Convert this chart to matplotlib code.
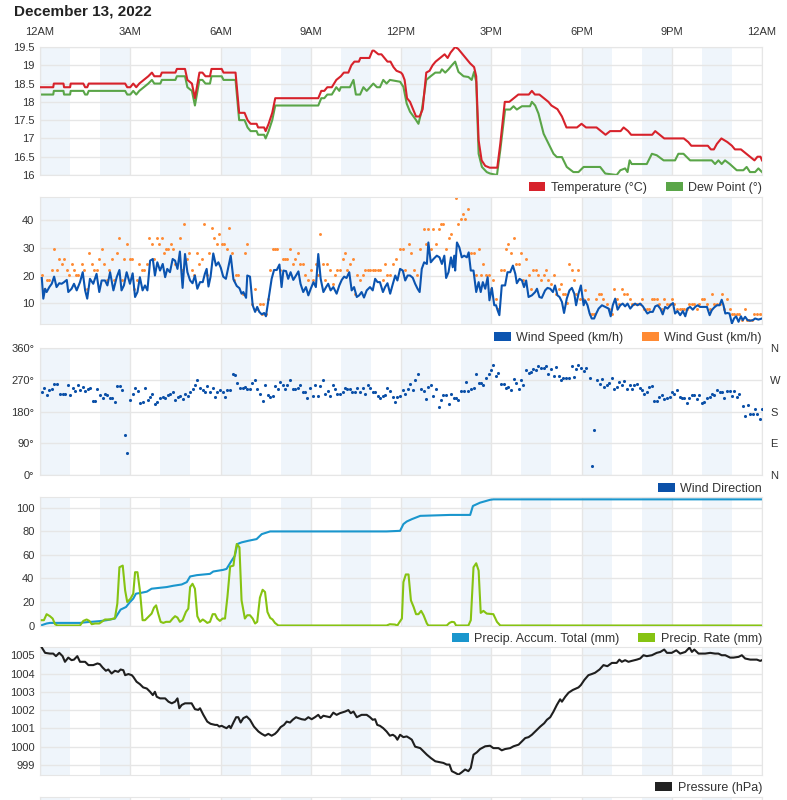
import numpy as np
import matplotlib
matplotlib.use("Agg")
import matplotlib.pyplot as plt
from matplotlib.patches import Patch

plt.rcParams['font.family'] = ['Liberation Sans', 'DejaVu Sans']

# ---- data (hours since midnight, value) ----
hour_ticks = [0, 3, 6, 9, 12, 15, 18, 21, 24]
hour_labels = ['12AM', '3AM', '6AM', '9AM', '12PM', '3PM', '6PM', '9PM', '12AM']

temperature = [
    (0.0, 18.4), (0.44, 18.4), (0.46, 18.5), (0.78, 18.5), (0.8, 18.4), (1.0, 18.4), (1.02, 18.5),
    (1.44, 18.5), (1.5, 18.4), (1.57, 18.4), (1.62, 18.5), (2.83, 18.5), (2.9, 18.4), (3.0, 18.4),
    (3.1, 18.5), (3.2, 18.4), (3.3, 18.5), (3.45, 18.6), (3.6, 18.7), (3.72, 18.8), (3.8, 18.7),
    (4.0, 18.7), (4.05, 18.8), (4.5, 18.8), (4.55, 18.9), (4.82, 18.9), (4.9, 18.6), (5.05, 18.5),
    (5.15, 18.1), (5.3, 18.8), (5.4, 18.8), (5.5, 18.7), (5.65, 18.7), (5.7, 18.9), (6.04, 18.9),
    (6.1, 18.8), (6.5, 18.8), (6.62, 17.7), (6.8, 17.7), (6.9, 17.5), (7.0, 17.4), (7.2, 17.4),
    (7.25, 17.3), (7.45, 17.3), (7.5, 17.2), (7.6, 17.4), (7.72, 17.7), (7.82, 18.1), (9.25, 18.1),
    (9.35, 18.3), (9.45, 18.3), (9.55, 18.4), (9.7, 18.4), (9.85, 18.6), (10.0, 18.7), (10.1, 18.8),
    (10.25, 18.8), (10.35, 19.0), (10.45, 19.1), (10.6, 19.1), (10.65, 19.2), (10.95, 19.2),
    (11.05, 19.4), (11.1, 19.4), (11.25, 19.3), (11.35, 19.3), (11.45, 19.2), (11.55, 19.1),
    (11.65, 19.1), (11.75, 18.95), (11.85, 18.85), (12.0, 18.8), (12.05, 18.75), (12.12, 18.6),
    (12.2, 18.1), (12.3, 18.0), (12.4, 17.8), (12.5, 17.6), (12.62, 17.6), (12.72, 17.8),
    (12.84, 18.8), (12.95, 18.85), (13.05, 19.0), (13.15, 19.1), (13.3, 19.2), (13.45, 19.3),
    (13.55, 19.2), (13.65, 19.35), (13.8, 19.5), (13.9, 19.45), (14.0, 19.35), (14.15, 19.2),
    (14.3, 19.05), (14.43, 18.95), (14.5, 18.7), (14.58, 16.95), (14.68, 16.4), (14.8, 16.25),
    (14.95, 16.2), (15.2, 16.2), (15.3, 16.85), (15.45, 18.0), (15.6, 18.0), (15.75, 18.1),
    (15.9, 18.2), (16.25, 18.2), (16.35, 18.3), (16.45, 18.2), (16.6, 18.2), (16.75, 18.1),
    (16.9, 18.0), (17.0, 17.9), (17.2, 17.8), (17.35, 17.6), (17.5, 17.3), (17.85, 17.3),
    (18.0, 17.4), (18.15, 17.3), (18.5, 17.3), (18.65, 17.2), (18.8, 17.1), (18.95, 17.2),
    (19.3, 17.2), (19.4, 17.3), (19.55, 17.2), (19.65, 17.1), (20.35, 17.1), (20.45, 17.2),
    (20.6, 17.1), (20.75, 17.0), (21.4, 17.0), (21.55, 16.9), (21.65, 16.8), (22.2, 16.8),
    (22.3, 16.7), (22.4, 16.7), (22.5, 16.85), (22.65, 17.0), (22.75, 16.95), (22.85, 16.9),
    (23.0, 16.8), (23.1, 16.7), (23.3, 16.7), (23.45, 16.6), (23.6, 16.5), (23.75, 16.4),
    (23.85, 16.5), (23.95, 16.5), (24.0, 16.4),
]

dew_point = [
    (0.0, 18.2), (0.44, 18.2), (0.46, 18.3), (0.78, 18.3), (0.8, 18.2), (1.0, 18.2), (1.02, 18.3),
    (1.44, 18.3), (1.5, 18.2), (1.57, 18.2), (1.62, 18.3), (2.83, 18.3), (2.9, 18.2), (3.0, 18.2),
    (3.1, 18.3), (3.2, 18.2), (3.3, 18.3), (3.45, 18.4), (3.6, 18.5), (3.72, 18.6), (3.8, 18.5),
    (4.0, 18.5), (4.05, 18.6), (4.5, 18.6), (4.55, 18.7), (4.82, 18.7), (4.9, 18.4), (5.05, 18.3),
    (5.15, 17.9), (5.3, 18.6), (5.4, 18.6), (5.5, 18.5), (5.65, 18.5), (5.7, 18.7), (6.04, 18.7),
    (6.1, 18.6), (6.5, 18.6), (6.62, 17.5), (6.8, 17.5), (6.9, 17.3), (7.0, 17.2), (7.2, 17.2),
    (7.25, 17.1), (7.45, 17.1), (7.5, 17.0), (7.6, 17.2), (7.72, 17.5), (7.82, 17.9), (9.25, 17.9),
    (9.35, 18.1), (9.45, 18.1), (9.55, 18.2), (9.7, 18.2), (9.85, 18.4), (9.95, 18.3), (10.0, 18.4),
    (10.3, 18.4), (10.42, 18.6), (10.5, 18.2), (10.64, 18.2), (10.75, 18.4), (10.86, 18.3),
    (10.97, 18.4), (11.08, 18.5), (11.2, 18.4), (11.3, 18.4), (11.41, 18.6), (11.52, 18.5),
    (11.63, 18.6), (11.97, 18.55), (12.08, 18.41), (12.19, 17.95), (12.3, 17.73), (12.47, 17.54),
    (12.58, 17.4), (12.69, 17.77), (12.84, 18.6), (12.97, 18.69), (13.14, 18.8), (13.3, 18.8),
    (13.36, 18.89), (13.47, 18.8), (13.58, 18.89), (13.69, 19.0), (13.8, 19.1), (13.91, 18.82),
    (14.08, 18.7), (14.24, 18.68), (14.35, 18.6), (14.43, 18.82), (14.5, 18.55), (14.58, 16.58),
    (14.69, 16.22), (14.85, 16.08), (14.96, 16.04), (15.19, 16.0), (15.3, 16.68), (15.46, 17.79),
    (15.63, 17.79), (15.74, 17.88), (15.85, 17.79), (16.02, 17.88), (16.29, 17.88), (16.35, 18.0),
    (16.46, 17.9), (16.57, 17.68), (16.74, 17.13), (16.9, 16.86), (17.07, 16.58), (17.18, 16.49),
    (17.35, 16.49), (17.51, 16.22), (17.73, 16.08), (17.9, 16.08), (18.07, 16.22), (18.62, 16.22),
    (18.79, 16.04), (19.17, 16.0), (19.29, 16.13), (19.45, 16.18), (19.53, 16.08), (19.6, 16.4),
    (19.67, 16.3), (20.17, 16.3), (20.34, 16.58), (20.5, 16.54), (20.73, 16.4), (21.11, 16.4),
    (21.22, 16.58), (21.39, 16.58), (21.61, 16.4), (22.33, 16.4), (22.44, 16.3), (22.55, 16.4),
    (22.66, 16.3), (22.77, 16.4), (22.93, 16.3), (23.16, 16.13), (23.38, 16.13), (23.49, 16.22),
    (23.6, 16.08), (23.77, 16.08), (23.88, 16.18), (24.0, 16.08),
]

wind_speed = [
    (0.06, 19.1), (0.11, 11.6), (0.17, 15.2), (0.22, 14.0), (0.31, 15.8), (0.39, 17.0), (0.47, 19.6),
    (0.55, 15.8), (0.64, 17.2), (0.72, 17.0), (0.80, 17.6), (0.89, 18.4), (0.94, 14.0), (1.05, 15.2),
    (1.13, 17.0), (1.22, 14.6), (1.33, 17.6), (1.42, 21.2), (1.50, 14.6), (1.57, 11.6), (1.66, 18.8),
    (1.77, 17.0), (1.88, 20.6), (1.97, 14.0), (2.05, 18.2), (2.16, 18.2), (2.24, 16.4), (2.33, 21.2),
    (2.44, 14.6), (2.55, 19.4), (2.64, 22.0), (2.71, 14.6), (2.79, 16.4), (2.88, 21.2), (2.99, 17.0),
    (3.08, 20.8), (3.16, 12.2), (3.24, 14.0), (3.32, 19.4), (3.41, 14.6), (3.49, 16.4), (3.57, 14.6),
    (3.66, 25.4), (3.75, 26.0), (3.82, 20.0), (3.90, 24.8), (3.99, 21.8), (4.08, 24.2), (4.16, 19.4),
    (4.23, 22.4), (4.32, 21.2), (4.41, 26.0), (4.49, 25.4), (4.57, 22.4), (4.65, 28.7), (4.74, 15.5),
    (4.82, 27.8), (4.90, 21.2), (4.99, 18.2), (5.07, 17.2), (5.15, 20.0), (5.23, 15.2), (5.32, 17.6),
    (5.41, 17.6), (5.48, 20.6), (5.54, 22.4), (5.60, 16.0), (5.67, 19.6), (5.76, 28.0), (5.85, 23.6),
    (5.93, 24.8), (6.01, 22.8), (6.09, 19.6), (6.18, 18.8), (6.25, 22.4), (6.34, 27.2), (6.43, 18.6),
    (6.54, 16.2), (6.63, 15.4), (6.70, 13.4), (6.76, 14.0), (6.85, 11.9), (6.89, 20.0), (6.98, 19.6),
    (7.07, 9.2), (7.15, 6.8), (7.22, 8.6), (7.29, 6.8), (7.37, 5.9), (7.45, 6.4), (7.51, 5.2),
    (7.59, 11.0), (7.70, 18.8), (7.78, 22.0), (7.87, 22.0), (7.96, 24.0), (8.03, 15.8), (8.09, 21.8),
    (8.18, 21.6), (8.25, 18.8), (8.33, 21.2), (8.42, 18.4), (8.51, 20.0), (8.59, 21.5), (8.66, 17.0),
    (8.75, 14.0), (8.84, 15.8), (8.92, 12.8), (9.00, 15.2), (9.09, 17.6), (9.17, 15.8), (9.25, 27.8),
    (9.33, 18.8), (9.42, 14.0), (9.51, 15.8), (9.58, 17.0), (9.66, 14.6), (9.75, 15.8), (9.86, 13.4),
    (9.95, 16.4), (10.03, 18.4), (10.11, 19.6), (10.19, 19.1), (10.28, 21.2), (10.36, 14.6),
    (10.44, 15.8), (10.53, 12.2), (10.61, 12.8), (10.69, 14.0), (10.77, 12.0), (10.86, 14.6),
    (10.97, 15.8), (11.06, 14.6), (11.14, 18.8), (11.22, 17.6), (11.30, 17.6), (11.40, 14.0),
    (11.47, 15.8), (11.55, 17.2), (11.64, 13.4), (11.73, 17.0), (11.81, 20.0), (11.88, 18.2),
    (11.97, 22.4), (12.06, 21.8), (12.14, 18.2), (12.22, 20.0), (12.30, 20.0), (12.39, 19.2),
    (12.47, 17.0), (12.55, 15.2), (12.62, 14.0), (12.69, 22.4), (12.77, 24.8), (12.86, 24.2),
    (12.91, 32.0), (12.99, 24.8), (13.08, 26.0), (13.19, 27.2), (13.28, 26.6), (13.36, 24.2),
    (13.44, 27.2), (13.50, 19.1), (13.58, 21.2), (13.66, 26.6), (13.72, 23.0), (13.77, 27.2),
    (13.80, 21.8), (13.86, 32.0), (13.94, 30.2), (14.02, 26.6), (14.10, 27.2), (14.19, 26.6),
    (14.25, 28.4), (14.32, 21.8), (14.41, 21.8), (14.50, 14.0), (14.58, 17.6), (14.65, 14.0),
    (14.72, 17.6), (14.80, 15.2), (14.88, 19.4), (14.94, 11.0), (15.02, 15.5), (15.10, 9.2),
    (15.16, 9.2), (15.21, 7.4), (15.27, 5.6), (15.35, 16.4), (15.46, 16.4), (15.54, 21.2),
    (15.63, 21.2), (15.72, 23.6), (15.80, 20.6), (15.85, 17.2), (15.94, 18.8), (16.02, 18.2),
    (16.09, 15.8), (16.16, 18.2), (16.24, 12.2), (16.35, 12.8), (16.46, 14.0), (16.52, 15.2),
    (16.60, 12.2), (16.68, 11.9), (16.79, 14.6), (16.87, 15.5), (16.96, 15.2), (17.05, 14.0),
    (17.12, 16.4), (17.20, 12.8), (17.27, 12.2), (17.35, 10.4), (17.42, 6.4), (17.51, 11.6),
    (17.60, 14.6), (17.68, 15.5), (17.76, 13.4), (17.82, 9.2), (17.90, 13.4), (17.98, 16.4),
    (18.07, 9.2), (18.12, 11.0), (18.20, 9.2), (18.27, 6.2), (18.34, 4.4), (18.42, 4.4),
    (18.49, 6.2), (18.57, 8.0), (18.68, 9.2), (18.79, 8.6), (18.90, 8.0), (18.97, 5.2),
    (19.04, 9.2), (19.12, 11.6), (19.20, 7.6), (19.29, 9.2), (19.37, 9.8), (19.45, 8.8),
    (19.53, 9.8), (19.62, 8.0), (19.71, 9.2), (19.78, 9.8), (19.86, 9.2), (19.95, 9.8),
    (20.04, 8.8), (20.12, 7.4), (20.19, 6.2), (20.28, 6.8), (20.37, 6.8), (20.45, 8.8),
    (20.53, 9.2), (20.62, 8.0), (20.70, 5.9), (20.78, 8.6), (20.86, 8.0), (20.95, 9.2),
    (21.04, 10.0), (21.11, 6.2), (21.19, 7.1), (21.28, 5.6), (21.37, 7.1), (21.45, 5.2),
    (21.52, 8.0), (21.61, 8.6), (21.70, 7.6), (21.78, 8.6), (21.86, 9.2), (21.94, 8.6),
    (22.06, 8.6), (22.17, 8.6), (22.26, 5.6), (22.33, 7.4), (22.41, 8.4), (22.50, 9.2),
    (22.59, 9.2), (22.66, 11.2), (22.72, 9.2), (22.78, 6.2), (22.85, 6.4), (22.92, 6.2),
    (23.00, 2.6), (23.07, 4.4), (23.14, 5.2), (23.22, 3.2), (23.30, 5.2), (23.36, 3.8),
    (23.44, 5.0), (23.52, 3.8), (23.61, 3.6), (23.70, 3.8), (23.77, 4.4), (23.88, 4.0), (24.00, 4.4),
]

wind_gust = [
    (0.06, 20.3), (0.14, 15.2), (0.22, 18.4), (0.31, 18.4), (0.39, 22), (0.47, 29.6), (0.55, 22),
    (0.64, 26), (0.72, 24), (0.80, 26), (0.89, 22), (0.98, 20.3), (1.05, 24), (1.13, 22),
    (1.20, 20.3), (1.27, 20.3), (1.39, 24), (1.46, 22), (1.55, 15.2), (1.64, 28), (1.72, 24),
    (1.80, 22), (1.88, 22), (1.97, 26), (2.06, 29.6), (2.14, 24), (2.22, 18.4), (2.30, 22),
    (2.40, 26), (2.47, 18.4), (2.55, 28), (2.64, 33.5), (2.71, 18.4), (2.79, 26), (2.90, 31.6),
    (2.99, 26), (3.07, 26), (3.14, 15.2), (3.21, 18.4), (3.30, 24), (3.38, 22), (3.47, 22),
    (3.55, 24), (3.62, 33.5), (3.71, 31.6), (3.80, 26), (3.88, 33.5), (3.97, 31.6), (4.04, 33.5),
    (4.12, 28), (4.19, 29.6), (4.27, 29.6), (4.34, 31.6), (4.41, 29.6), (4.49, 24), (4.57, 24),
    (4.65, 33.5), (4.73, 22), (4.80, 38.6), (4.88, 26), (4.96, 28), (5.04, 22), (5.13, 20.3),
    (5.21, 28), (5.30, 24), (5.37, 26), (5.45, 38.6), (5.54, 20.3), (5.63, 28), (5.71, 37.1),
    (5.80, 33.5), (5.87, 31.6), (5.96, 35.2), (6.04, 31.6), (6.12, 31.6), (6.20, 29.6),
    (6.29, 37.1), (6.37, 28), (6.45, 18.4), (6.52, 20.3), (6.59, 20.3), (6.74, 13.4), (6.81, 28),
    (6.89, 31.6), (7.06, 9.5), (7.15, 15.2), (7.20, 8), (7.31, 9.5), (7.37, 5.9), (7.42, 9.5),
    (7.51, 5.9), (7.57, 11.6), (7.65, 22), (7.73, 29.6), (7.81, 29.6), (7.89, 29.6), (7.98, 22),
    (8.07, 26), (8.14, 26), (8.22, 26), (8.31, 29.6), (8.40, 24), (8.48, 26), (8.57, 28),
    (8.64, 24), (8.73, 24), (8.81, 20.3), (8.92, 18.4), (9.00, 22), (9.09, 18.4), (9.16, 24),
    (9.25, 20.3), (9.31, 35.2), (9.40, 24), (9.47, 18.4), (9.55, 24), (9.64, 22), (9.73, 17),
    (9.81, 20.3), (9.88, 22), (9.97, 22), (10.06, 26), (10.14, 28), (10.22, 22), (10.30, 24),
    (10.39, 26), (10.47, 13.4), (10.55, 20.3), (10.64, 18.4), (10.73, 20.3), (10.80, 22),
    (10.89, 22), (10.97, 22), (11.06, 22), (11.14, 22), (11.22, 22), (11.30, 22), (11.39, 18.4),
    (11.47, 24), (11.55, 20.3), (11.63, 20.3), (11.75, 24), (11.84, 26), (11.97, 29.6),
    (12.06, 29.6), (12.14, 22), (12.25, 31.6), (12.33, 28), (12.42, 22), (12.53, 20.3),
    (12.64, 29.6), (12.75, 36.8), (12.84, 31.6), (12.91, 36.8), (12.99, 29.6), (13.08, 36.8),
    (13.17, 31.6), (13.25, 36.8), (13.32, 38.6), (13.41, 38.6), (13.50, 29.6), (13.58, 33.5),
    (13.66, 35.2), (13.75, 26), (13.83, 48.2), (13.91, 38.6), (13.99, 40.4), (14.06, 42.2),
    (14.13, 40.4), (14.24, 44), (14.32, 28), (14.41, 28), (14.50, 20.3), (14.58, 29.6),
    (14.65, 20.3), (14.74, 24), (14.83, 20.3), (14.91, 20.3), (14.99, 15.2), (15.07, 18.4),
    (15.16, 11.6), (15.24, 8), (15.32, 22), (15.41, 22), (15.50, 29.6), (15.57, 31.6),
    (15.65, 28), (15.74, 33.5), (15.83, 24), (15.91, 24), (15.98, 28), (16.07, 18.4), (16.16, 26),
    (16.24, 20.3), (16.32, 15.2), (16.40, 22), (16.49, 22), (16.57, 20.3), (16.65, 18.4),
    (16.74, 20.3), (16.83, 22), (16.90, 18.4), (16.98, 17), (17.07, 20.3), (17.16, 13.4),
    (17.24, 15.2), (17.31, 17), (17.38, 13.4), (17.46, 13.4), (17.53, 10), (17.60, 24),
    (17.68, 22), (17.76, 18.4), (17.82, 13.4), (17.90, 22), (17.96, 11.6), (18.04, 11.6),
    (18.12, 14.8), (18.20, 11.6), (18.27, 5.9), (18.34, 5.9), (18.42, 5.9), (18.49, 11.6),
    (18.57, 13.4), (18.64, 13.4), (18.73, 11.6), (18.84, 9.8), (18.93, 8), (19.01, 5.9),
    (19.09, 15.2), (19.17, 11.6), (19.26, 9.8), (19.34, 15.2), (19.42, 13.4), (19.51, 13.4),
    (19.60, 11.6), (19.67, 9.8), (19.75, 9.8), (19.84, 9.8), (19.93, 9.8), (20.01, 11.6),
    (20.08, 8), (20.17, 8), (20.26, 8), (20.34, 11.6), (20.42, 11.6), (20.50, 11.6), (20.59, 9.8),
    (20.67, 8), (20.75, 11.6), (20.84, 9.8), (20.93, 9.8), (21.00, 11.6), (21.08, 9.8), (21.17, 8),
    (21.26, 8), (21.34, 8), (21.41, 8), (21.50, 8), (21.59, 9.8), (21.67, 9.8), (21.75, 9.8),
    (21.83, 8), (21.92, 9.8), (22.00, 11.6), (22.08, 11.6), (22.17, 9.8), (22.26, 8), (22.33, 13.4),
    (22.41, 9.8), (22.50, 9.8), (22.59, 9.8), (22.66, 13.4), (22.75, 8), (22.83, 11.6), (22.92, 8),
    (23.00, 5.9), (23.07, 5.9), (23.16, 5.9), (23.25, 5.9), (23.33, 4), (23.42, 8), (23.50, 4),
    (23.58, 4), (23.66, 4), (23.74, 5.9), (23.83, 5.9), (23.92, 5.9), (24.00, 5.9),
]

wind_dir = [
    (0.06, 236), (0.14, 247), (0.22, 226), (0.31, 240), (0.39, 243), (0.48, 259), (0.58, 259),
    (0.66, 231), (0.75, 231), (0.83, 231), (0.92, 254), (1.00, 226), (1.09, 247), (1.16, 237),
    (1.25, 256), (1.33, 240), (1.42, 250), (1.50, 237), (1.58, 245), (1.66, 247), (1.75, 211),
    (1.83, 211), (1.91, 245), (1.99, 228), (2.08, 219), (2.16, 231), (2.24, 228), (2.33, 219),
    (2.40, 217), (2.49, 207), (2.57, 253), (2.66, 253), (2.74, 240), (2.81, 113), (2.90, 61),
    (2.99, 213), (3.08, 231), (3.16, 247), (3.25, 237), (3.32, 203), (3.41, 207), (3.49, 247),
    (3.58, 212), (3.66, 221), (3.73, 231), (3.81, 200), (3.90, 207), (3.99, 217), (4.08, 221),
    (4.16, 219), (4.24, 226), (4.32, 231), (4.41, 236), (4.49, 212), (4.58, 221), (4.65, 224),
    (4.74, 215), (4.82, 231), (4.91, 224), (4.99, 234), (5.07, 243), (5.15, 256), (5.23, 269),
    (5.32, 247), (5.41, 240), (5.48, 234), (5.56, 253), (5.65, 234), (5.74, 247), (5.82, 221),
    (5.89, 236), (5.98, 240), (6.07, 236), (6.15, 221), (6.23, 240), (6.32, 240), (6.40, 287),
    (6.48, 283), (6.56, 262), (6.65, 247), (6.74, 247), (6.81, 250), (6.89, 245), (6.98, 243),
    (7.06, 262), (7.15, 269), (7.22, 245), (7.31, 231), (7.40, 209), (7.48, 254), (7.57, 228),
    (7.65, 221), (7.73, 224), (7.81, 253), (7.90, 245), (7.98, 264), (8.07, 256), (8.14, 243),
    (8.22, 254), (8.31, 269), (8.40, 243), (8.48, 243), (8.57, 247), (8.64, 256), (8.73, 234),
    (8.81, 234), (8.89, 219), (8.98, 247), (9.06, 224), (9.14, 256), (9.23, 224), (9.31, 253),
    (9.40, 269), (9.47, 231), (9.56, 237), (9.64, 224), (9.73, 254), (9.81, 243), (9.88, 231),
    (9.97, 231), (10.06, 234), (10.14, 247), (10.22, 243), (10.30, 243), (10.38, 236),
    (10.47, 236), (10.55, 247), (10.64, 236), (10.73, 247), (10.80, 231), (10.89, 256),
    (10.97, 247), (11.06, 236), (11.14, 236), (11.22, 224), (11.30, 219), (11.39, 224),
    (11.47, 228), (11.55, 247), (11.63, 237), (11.72, 221), (11.80, 207), (11.88, 221),
    (11.97, 224), (12.06, 240), (12.14, 231), (12.22, 243), (12.30, 259), (12.39, 240),
    (12.47, 269), (12.58, 285), (12.66, 243), (12.75, 237), (12.84, 215), (12.91, 250),
    (12.99, 256), (13.08, 224), (13.17, 245), (13.25, 193), (13.32, 212), (13.41, 226),
    (13.49, 226), (13.58, 200), (13.66, 231), (13.75, 219), (13.82, 219), (13.91, 212),
    (13.99, 237), (14.08, 237), (14.17, 264), (14.24, 237), (14.32, 243), (14.41, 247),
    (14.50, 285), (14.58, 262), (14.65, 262), (14.74, 254), (14.83, 275), (14.91, 287),
    (14.99, 297), (15.07, 311), (15.16, 281), (15.24, 290), (15.32, 259), (15.41, 259),
    (15.50, 247), (15.57, 250), (15.65, 240), (15.74, 271), (15.83, 262), (15.91, 243),
    (15.99, 269), (16.07, 256), (16.16, 297), (16.24, 290), (16.32, 292), (16.40, 300),
    (16.49, 297), (16.57, 309), (16.65, 303), (16.74, 303), (16.83, 309), (16.90, 287),
    (16.98, 300), (17.07, 281), (17.16, 306), (17.24, 281), (17.31, 269), (17.40, 275),
    (17.49, 275), (17.57, 275), (17.68, 309), (17.76, 278), (17.82, 300), (17.90, 313),
    (17.98, 302), (18.07, 294), (18.15, 302), (18.27, 275), (18.34, 26), (18.42, 127),
    (18.51, 269), (18.60, 259), (18.68, 271), (18.75, 250), (18.84, 256), (18.92, 262),
    (19.01, 275), (19.09, 243), (19.17, 250), (19.26, 264), (19.34, 256), (19.42, 266),
    (19.51, 245), (19.60, 256), (19.67, 243), (19.75, 256), (19.84, 259), (19.93, 247),
    (20.01, 240), (20.08, 231), (20.17, 234), (20.26, 250), (20.34, 253), (20.42, 209),
    (20.50, 209), (20.59, 221), (20.67, 228), (20.75, 215), (20.84, 219), (20.93, 221),
    (21.00, 234), (21.08, 231), (21.17, 240), (21.26, 221), (21.34, 217), (21.41, 219),
    (21.50, 203), (21.59, 219), (21.67, 228), (21.75, 228), (21.83, 215), (21.92, 228),
    (22.00, 205), (22.08, 207), (22.17, 219), (22.26, 221), (22.33, 231), (22.41, 226),
    (22.50, 240), (22.59, 236), (22.66, 234), (22.75, 219), (22.83, 237), (22.92, 237),
    (23.00, 224), (23.07, 237), (23.16, 221), (23.25, 231), (23.36, 196), (23.44, 168),
    (23.52, 198), (23.61, 172), (23.70, 172), (23.77, 187), (23.85, 174), (23.94, 160), (24.00, 187),
]

precip_total = [
    (0.06, 0.3), (0.22, 1.7), (0.33, 2.2), (1.33, 2.2), (1.55, 2.8), (1.99, 3.7), (2.22, 4.5),
    (2.49, 5.9), (2.68, 13.5), (2.86, 15.7), (2.99, 19.9), (3.1, 22.8), (3.19, 27.0), (3.38, 27.8),
    (3.55, 28.7), (3.71, 31.2), (3.99, 32.0), (4.21, 32.6), (4.43, 33.7), (4.71, 34.8), (4.88, 36.8),
    (4.99, 41.6), (5.21, 42.7), (5.65, 43.8), (5.76, 45.8), (6.09, 47.2), (6.2, 48.0), (6.37, 55.0),
    (6.48, 59.3), (6.56, 69.1), (6.7, 70.5), (6.93, 71.9), (7.2, 73.3), (7.37, 77.5), (7.65, 79.8),
    (11.52, 79.8), (11.97, 80.3), (12.08, 86.0), (12.19, 88.2), (12.36, 90.2), (12.64, 93.0),
    (13.63, 93.8), (14.3, 93.8), (14.39, 101.4), (14.63, 104.2), (14.96, 106.6), (15.07, 107.0),
    (24.0, 107.0),
]

precip_rate = [
    (0.06, 4.5), (0.13, 4.5), (0.22, 9.6), (0.33, 7.9), (0.42, 5.9), (0.5, 1.1), (0.58, 0.0),
    (1.33, 0.0), (1.44, 3.9), (1.55, 5.1), (1.64, 3.9), (1.72, 1.1), (1.83, 1.7), (1.97, 1.7),
    (2.05, 3.1), (2.16, 5.1), (2.33, 5.1), (2.49, 6.2), (2.57, 18.5), (2.64, 49.4), (2.75, 50.8),
    (2.83, 29.8), (2.9, 19.9), (3.01, 22.8), (3.1, 27.0), (3.16, 45.2), (3.24, 45.2), (3.32, 29.8),
    (3.41, 4.5), (3.49, 4.5), (3.6, 7.3), (3.71, 10.1), (3.79, 15.2), (3.86, 17.1), (3.93, 10.1),
    (4.01, 3.1), (4.1, 2.2), (4.19, 3.1), (4.32, 3.1), (4.41, 5.9), (4.49, 7.9), (4.57, 6.7),
    (4.65, 3.1), (4.74, 4.5), (4.85, 11.5), (4.93, 14.3), (4.99, 32.6), (5.07, 35.4), (5.15, 31.2),
    (5.23, 7.9), (5.32, 3.1), (5.41, 5.1), (5.48, 3.9), (5.56, 2.2), (5.65, 3.1), (5.74, 9.6),
    (5.82, 9.6), (5.89, 5.9), (5.98, 3.9), (6.07, 5.9), (6.15, 5.9), (6.23, 24.2), (6.32, 50.0),
    (6.43, 50.8), (6.48, 60.7), (6.54, 69.1), (6.63, 66.3), (6.7, 21.3), (6.81, 5.9), (6.89, 8.7),
    (6.98, 8.7), (7.07, 5.9), (7.15, 1.7), (7.22, 3.1), (7.31, 23.6), (7.4, 30.3), (7.48, 28.4),
    (7.56, 11.5), (7.65, 6.5), (7.73, 5.1), (7.81, 2.2), (7.92, 0.0), (11.52, 0.0), (11.63, 1.1),
    (11.8, 0.8), (11.88, 0.0), (11.92, 1.7), (12.03, 5.9), (12.08, 36.8), (12.16, 43.3),
    (12.25, 43.3), (12.33, 21.3), (12.42, 15.7), (12.5, 9.6), (12.58, 9.6), (12.67, 12.4),
    (12.75, 8.7), (12.86, 1.7), (12.91, 0.0), (13.52, 0.0), (13.61, 2.2), (13.69, 3.1),
    (13.77, 2.8), (13.83, 0.0), (14.24, 0.0), (14.32, 4.5), (14.41, 49.4), (14.5, 52.8),
    (14.58, 46.6), (14.65, 10.7), (14.74, 12.4), (14.85, 10.1), (15.07, 9.6), (15.19, 3.1),
    (15.3, 0.0), (24.0, 0.0),
]

pressure = [
    (0.06, 1005.42), (0.17, 1005.13), (0.33, 1005.09), (0.44, 1005.09), (0.53, 1004.95),
    (0.64, 1005.13), (0.75, 1004.95), (0.83, 1004.64), (0.94, 1004.87), (1.05, 1004.73),
    (1.13, 1004.76), (1.24, 1004.95), (1.33, 1004.64), (1.5, 1004.64), (1.61, 1004.46),
    (1.77, 1004.46), (1.91, 1004.55), (1.99, 1004.51), (2.08, 1004.33), (2.19, 1004.15),
    (2.27, 1004.22), (2.38, 1004.0), (2.49, 1004.15), (2.6, 1004.09), (2.68, 1004.22),
    (2.77, 1004.18), (2.83, 1003.91), (2.94, 1003.97), (3.05, 1003.91), (3.1, 1003.82),
    (3.21, 1003.55), (3.32, 1003.42), (3.43, 1003.24), (3.55, 1003.18), (3.66, 1003.0),
    (3.75, 1002.82), (3.82, 1003.0), (3.88, 1002.73), (3.99, 1002.64), (4.16, 1002.64),
    (4.27, 1002.46), (4.38, 1002.37), (4.49, 1002.46), (4.57, 1002.64), (4.63, 1002.1),
    (4.71, 1002.28), (4.82, 1002.37), (5.04, 1002.37), (5.15, 1002.05), (5.26, 1002.01),
    (5.32, 1002.1), (5.43, 1001.74), (5.56, 1001.37), (5.67, 1001.25), (5.82, 1001.19),
    (5.89, 1001.19), (5.96, 1001.1), (6.04, 1001.14), (6.12, 1001.07), (6.2, 1001.01),
    (6.29, 1001.14), (6.34, 1001.01), (6.43, 1001.32), (6.52, 1001.61), (6.59, 1001.61),
    (6.67, 1001.32), (6.76, 1001.56), (6.87, 1001.65), (6.98, 1001.47), (7.11, 1001.1),
    (7.26, 1000.83), (7.37, 1000.7), (7.48, 1000.6), (7.59, 1000.7), (7.7, 1000.6),
    (7.81, 1000.7), (7.89, 1000.83), (8.0, 1001.07), (8.11, 1001.19), (8.2, 1001.37),
    (8.31, 1001.32), (8.4, 1001.47), (8.51, 1001.61), (8.59, 1001.56), (8.7, 1001.5),
    (8.81, 1001.47), (8.92, 1001.61), (9.03, 1001.5), (9.14, 1001.61), (9.25, 1001.74),
    (9.33, 1001.56), (9.42, 1001.69), (9.53, 1001.65), (9.64, 1001.61), (9.75, 1001.86),
    (9.86, 1001.74), (9.97, 1001.83), (10.14, 1001.92), (10.25, 1002.0), (10.33, 1001.83),
    (10.42, 1001.92), (10.53, 1001.61), (10.69, 1001.74), (10.86, 1001.74), (10.97, 1001.61),
    (11.06, 1001.47), (11.14, 1001.5), (11.21, 1001.19), (11.3, 1001.14), (11.41, 1001.01),
    (11.52, 1000.83), (11.63, 1000.6), (11.73, 1000.65), (11.81, 1000.56), (11.88, 1000.38),
    (11.97, 1000.65), (12.08, 1000.52), (12.19, 1000.56), (12.28, 1000.47), (12.36, 1000.38),
    (12.47, 1000.0), (12.64, 999.92), (12.75, 999.74), (12.86, 999.56), (12.99, 999.38),
    (13.14, 999.2), (13.41, 999.11), (13.52, 999.02), (13.61, 999.02), (13.69, 998.66),
    (13.8, 998.57), (13.91, 998.47), (14.02, 998.6), (14.13, 998.75), (14.24, 998.66),
    (14.32, 998.84), (14.41, 999.56), (14.52, 999.69), (14.63, 999.87), (14.8, 1000.02),
    (14.96, 1000.05), (15.07, 999.92), (15.24, 999.92), (15.35, 999.8), (15.46, 999.87),
    (15.63, 999.92), (15.74, 1000.02), (15.91, 1000.11), (16.02, 1000.29), (16.13, 1000.47),
    (16.24, 1000.52), (16.35, 1000.65), (16.46, 1000.83), (16.52, 1000.92), (16.63, 1001.1),
    (16.76, 1001.28), (16.85, 1001.47), (16.96, 1001.61), (17.07, 1001.92), (17.18, 1002.28),
    (17.29, 1002.59), (17.35, 1002.46), (17.46, 1002.73), (17.57, 1002.95), (17.71, 1003.1),
    (17.9, 1003.24), (17.98, 1003.37), (18.09, 1003.64), (18.23, 1003.91), (18.34, 1003.97),
    (18.45, 1004.04), (18.6, 1004.22), (18.73, 1004.46), (18.86, 1004.4), (19.01, 1004.58),
    (19.17, 1004.58), (19.26, 1004.76), (19.34, 1004.64), (19.45, 1004.73), (19.56, 1004.64),
    (19.67, 1004.69), (19.84, 1004.76), (19.95, 1004.82), (20.06, 1005.0), (20.17, 1004.95),
    (20.34, 1005.0), (20.5, 1005.13), (20.62, 1005.18), (20.75, 1005.31), (20.84, 1005.13),
    (21.0, 1005.13), (21.15, 1005.27), (21.28, 1005.09), (21.45, 1005.18), (21.59, 1005.42),
    (21.67, 1005.18), (21.75, 1005.31), (21.89, 1005.09), (22.11, 1005.09), (22.28, 1005.13),
    (22.44, 1005.09), (22.55, 1005.09), (22.66, 1005.0), (22.78, 1005.0), (22.94, 1004.87),
    (23.05, 1004.87), (23.22, 1004.91), (23.33, 1005.0), (23.44, 1004.82), (23.61, 1004.76),
    (23.83, 1004.76), (23.94, 1004.69), (24.0, 1004.73),
]

# ---- style ----
band_color = '#eff5fb'
grid_color = '#e6e6e6'
text_color = '#333333'

fig = plt.figure(figsize=(7.87, 8.0), dpi=100)
left, width = 40 / 787, 722 / 787


def panel(top_px, bottom_px):
    ax = fig.add_axes([left, 1 - bottom_px / 800, width, (bottom_px - top_px) / 800])
    for h in range(0, 24, 2):
        ax.axvspan(h, h + 1, color=band_color, lw=0, zorder=0)
    ax.set_xlim(0, 24)
    ax.set_xticks(hour_ticks)
    ax.set_xticklabels([])
    ax.grid(True, color=grid_color, lw=1, zorder=0.5)
    ax.set_axisbelow(True)
    ax.tick_params(length=0, labelsize=8, labelcolor=text_color, pad=4)
    for s in ax.spines.values():
        s.set_color(grid_color)
    return ax


def legend(ax, items, y):
    handles = [Patch(facecolor=c, edgecolor='none', label=l) for l, c in items]
    ax.legend(handles=handles, loc='center right', bbox_to_anchor=(1.0, y), ncol=len(items),
              frameon=False, fontsize=9, handlelength=1.35, handleheight=0.7,
              handletextpad=0.45, columnspacing=1.5, borderpad=0, borderaxespad=0,
              labelcolor=text_color)


def xy(data):
    a = np.array(data, dtype=float)
    return a[:, 0], a[:, 1]


fig.text(14 / 787, 1 - 12 / 800, 'December 13, 2022', fontsize=11, fontweight='bold',
         color='#222222', va='center', ha='left')

# temperature / dew point
ax1 = panel(47, 175)
ax1.plot(*xy(temperature), color='#d7222b', lw=1.5, zorder=3)
ax1.plot(*xy(dew_point), color='#5aa548', lw=1.5, zorder=2)
ax1.set_ylim(16, 19.5)
ax1.set_yticks([16, 16.5, 17, 17.5, 18, 18.5, 19, 19.5])
ax1.set_yticklabels(['16', '16.5', '17', '17.5', '18', '18.5', '19', '19.5'])
ax1.xaxis.tick_top()
ax1.set_xticklabels(hour_labels)
ax1.tick_params(axis='x', labelsize=8, pad=7)
legend(ax1, [('Temperature (°C)', '#d7222b'), ('Dew Point (°)', '#5aa548')], -0.1)

# wind
ax2 = panel(197, 324)
ax2.plot(*xy(wind_speed), color='#0b54b0', lw=1.5, zorder=3)
gt, gv = xy(wind_gust)
ax2.scatter(gt, gv, s=4.5, color='#ff8a33', lw=0, zorder=2)
ax2.set_ylim(2.4, 48.5)
ax2.set_yticks([10, 20, 30, 40])
legend(ax2, [('Wind Speed (km/h)', '#0b54b0'), ('Wind Gust (km/h)', '#ff8a33')], -0.11)

# wind direction
ax3 = panel(348, 475)
dt, dv = xy(wind_dir)
ax3.scatter(dt, dv, s=5, color='#0b50a8', lw=0, zorder=3)
ax3.set_ylim(0, 360)
ax3.set_yticks([0, 90, 180, 270, 360])
ax3.set_yticklabels(['0°', '90°', '180°', '270°', '360°'])
ax3r = ax3.twinx()
ax3r.set_ylim(0, 360)
ax3r.set_yticks([0, 90, 180, 270, 360])
ax3r.set_yticklabels(['N', 'E', 'S', 'W', 'N'])
ax3r.tick_params(length=0, labelsize=8, labelcolor=text_color, pad=6)
for s in ax3r.spines.values():
    s.set_visible(False)
legend(ax3, [('Wind Direction', '#0b50a8')], -0.11)

# precipitation
ax4 = panel(497, 625.5)
ax4.plot(*xy(precip_total), color='#1a96cd', lw=1.5, zorder=2)
ax4.plot(*xy(precip_rate), color='#86c312', lw=1.5, zorder=3)
ax4.set_ylim(0, 109)
ax4.set_yticks([0, 20, 40, 60, 80, 100])
legend(ax4, [('Precip. Accum. Total (mm)', '#1a96cd'), ('Precip. Rate (mm)', '#86c312')], -0.105)

# pressure
ax5 = panel(647, 775)
ax5.plot(*xy(pressure), color='#1f1f1f', lw=1.5, zorder=3)
ax5.set_ylim(998.45, 1005.45)
ax5.set_yticks([999, 1000, 1001, 1002, 1003, 1004, 1005])
legend(ax5, [('Pressure (hPa)', '#222222')], -0.1)

# next panel, cut off at the bottom of the page
ax6 = panel(797, 925)
ax6.set_yticks([])

fig.savefig('out.png', dpi=100)
